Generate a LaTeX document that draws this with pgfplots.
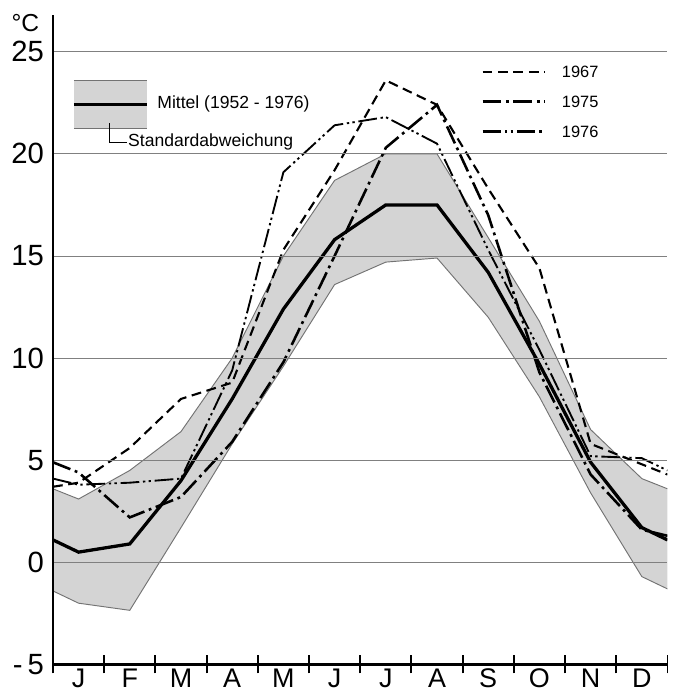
\documentclass[border=0pt]{standalone}
\usepackage{pgfplots}
\pgfplotsset{compat=1.18}
\usepgfplotslibrary{fillbetween}
\usepackage{fontspec}
\setmainfont{Liberation Sans}
\begin{document}
\begin{tikzpicture}
\begin{axis}[
  scale only axis, width=9.225cm, height=9.75cm,
  xmin=0, xmax=12, ymin=-5, ymax=26.8,
  axis lines*=left,
  axis line style={black, line width=0.9pt},
  axis on top,
  clip mode=individual,
  /pgf/number format/assume math mode=true,
  ytick={-5,0,5,10,15,20,25},
  yticklabels={-\,5,0,5,10,15,20,25},
  ytick style={draw=none},
  yticklabel style={font=\fontsize{12.5}{12.5}\selectfont, inner sep=1pt, xshift=0.04cm},
  ymajorgrids=true,
  grid style={black!50, line width=0.4pt},
  xtick={0,1,...,12},
  xticklabels={},
  xtick style={black, line width=0.8pt},
  tick align=center,
  major tick length=0.27cm,
  extra x ticks={0.5,1.5,...,11.5},
  extra x tick labels={J,F,M,A,M,J,J,A,S,O,N,D},
  extra x tick style={major tick length=0pt, grid=none,
     xticklabel style={font=\fontsize{11.5}{11.5}\selectfont, inner sep=1pt, yshift=-0.02cm}},
]
% standard deviation band
\addplot[name path=up, black!55, line width=0.4pt] coordinates {
 (0,3.6)(0.5,3.1)(1.5,4.5)(2.5,6.4)(3.5,10.0)(4.5,15.0)(5.5,18.7)(6.5,20.0)(7.5,20.0)(8.5,15.9)(9.5,11.8)(10.5,6.5)(11.5,4.1)(12,3.6)};
\addplot[name path=lo, black!55, line width=0.4pt] coordinates {
 (0,-1.4)(0.5,-2.0)(1.5,-2.35)(2.5,1.7)(3.5,5.8)(4.5,9.6)(5.5,13.6)(6.5,14.7)(7.5,14.9)(8.5,12.0)(9.5,8.1)(10.5,3.4)(11.5,-0.7)(12,-1.3)};
\addplot[black!17, draw=none] fill between[of=up and lo];
% mean
\addplot[black, line width=1.4pt] coordinates {
 (0,1.1)(0.5,0.5)(1.5,0.9)(2.5,4.0)(3.5,8.0)(4.5,12.4)(5.5,15.8)(6.5,17.5)(7.5,17.5)(8.5,14.2)(9.5,9.7)(10.5,4.9)(11.5,1.7)(12,1.1)};
% 1967
\addplot[black, line width=0.9pt, dash pattern=on 4.2pt off 2.4pt] coordinates {
 (0,3.7)(0.5,3.9)(1.5,5.6)(2.5,8.0)(3.5,8.8)(4.5,15.3)(5.5,19.2)(6.5,23.6)(7.5,22.4)(8.5,18.3)(9.5,14.4)(10.5,5.8)(11.5,4.8)(12,4.3)};
% 1975
\addplot[black, line width=1.1pt, dash pattern=on 8pt off 2pt on 1.2pt off 2pt] coordinates {
 (0,4.9)(0.5,4.4)(1.5,2.2)(2.5,3.2)(3.5,5.9)(4.5,9.8)(5.5,15.0)(6.5,20.3)(7.5,22.4)(8.5,17.0)(9.5,9.3)(10.5,4.3)(11.5,1.6)(12,1.3)};
% 1976
\addplot[black, line width=0.8pt, dash pattern=on 8pt off 1.6pt on 1pt off 1.4pt on 1pt off 1.6pt] coordinates {
 (0,4.1)(0.5,3.8)(1.5,3.9)(2.5,4.1)(3.5,9.4)(4.5,19.1)(5.5,21.4)(6.5,21.8)(7.5,20.5)(8.5,15.3)(9.5,10.4)(10.5,5.2)(11.5,5.1)(12,4.5)};
% legend: band
\fill[black!17] (axis cs:0.41,21.24) rectangle (axis cs:1.834,23.59);
\draw[black!55, line width=0.4pt] (axis cs:0.41,23.59) -- (axis cs:1.834,23.59);
\draw[black!55, line width=0.4pt] (axis cs:0.41,21.24) -- (axis cs:1.834,21.24);
\draw[black, line width=1.4pt] (axis cs:0.41,22.42) -- (axis cs:1.834,22.42);
\node[anchor=west, inner sep=0pt, font=\fontsize{7.5}{7.5}\selectfont] at (axis cs:2.03,22.42) {Mittel (1952 - 1976)};
\draw[black, line width=0.4pt] (axis cs:1.112,21.5) -- (axis cs:1.112,20.56) -- (axis cs:1.444,20.56);
\node[anchor=west, inner sep=0pt, font=\fontsize{7.5}{7.5}\selectfont] at (axis cs:1.46,20.56) {Standardabweichung};
% legend: years
\draw[black, line width=0.9pt, dash pattern=on 4.2pt off 2.4pt] (axis cs:8.39,24.03) -- (axis cs:9.6,24.03);
\draw[black, line width=1.1pt, dash pattern=on 8pt off 2pt on 1.2pt off 2pt] (axis cs:8.39,22.56) -- (axis cs:9.6,22.56);
\draw[black, line width=1.1pt, dash pattern=on 8pt off 1.6pt on 1pt off 1.4pt on 1pt off 1.6pt] (axis cs:8.39,21.1) -- (axis cs:9.6,21.1);
\node[anchor=west, inner sep=0pt, font=\fontsize{7}{7}\selectfont] at (axis cs:9.93,24.03) {1967};
\node[anchor=west, inner sep=0pt, font=\fontsize{7}{7}\selectfont] at (axis cs:9.93,22.56) {1975};
\node[anchor=west, inner sep=0pt, font=\fontsize{7}{7}\selectfont] at (axis cs:9.93,21.1) {1976};
% unit
\node[anchor=north east, inner sep=0pt, font=\fontsize{10.5}{10.5}\selectfont] at ([xshift=-0.2cm, yshift=0.01cm]rel axis cs:0,1) {°C};
\end{axis}
\path ([yshift=0.225cm]current axis.north east);
\path ([xshift=-0.795cm]current axis.south west);
\end{tikzpicture}
\end{document}
